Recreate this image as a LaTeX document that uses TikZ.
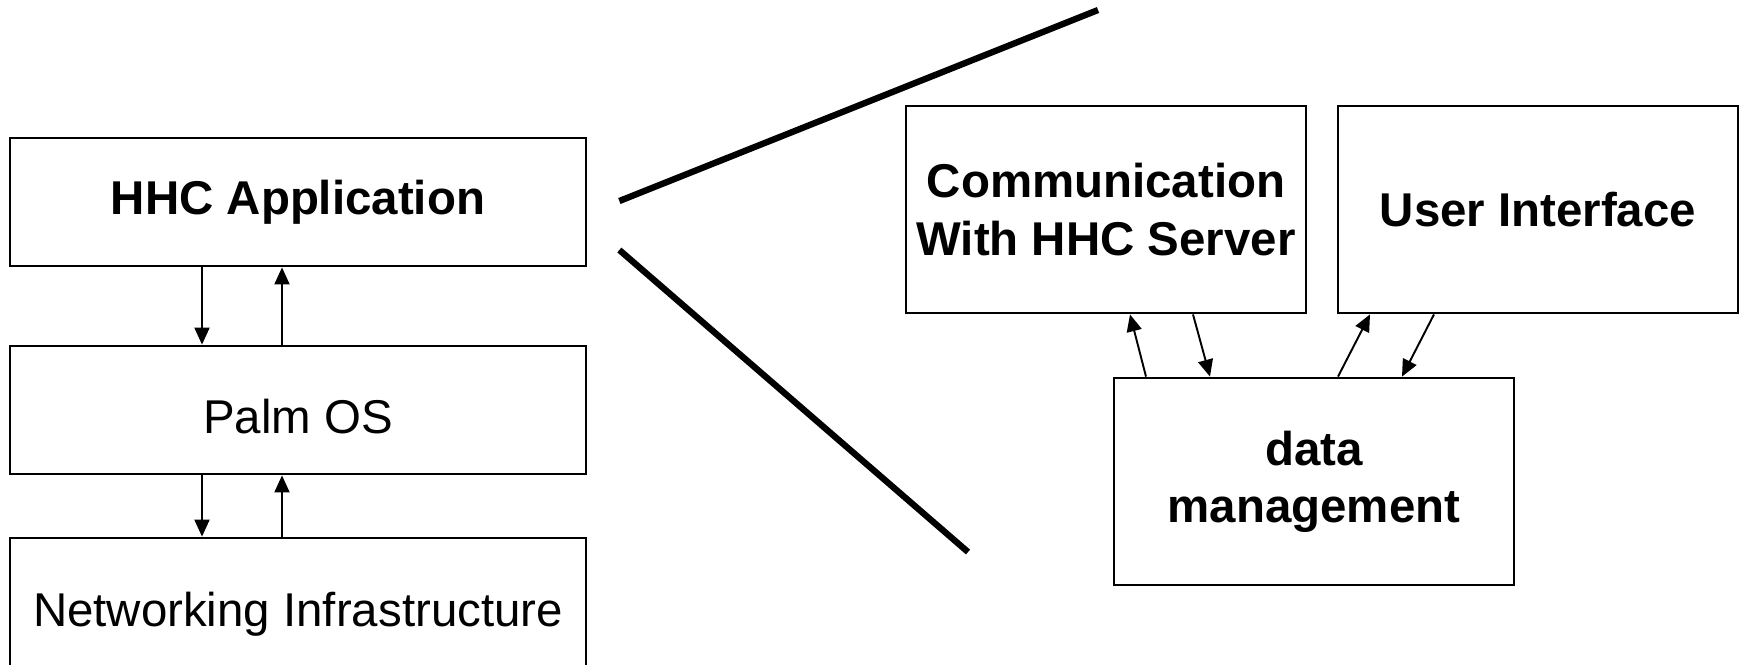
\documentclass[tikz,border=0pt]{standalone}
\usepackage{fontspec}
\setmainfont{Liberation Sans}
\usepackage{tikz}
\usetikzlibrary{calc}
\usetikzlibrary{arrows.meta}

\begin{document}
\begin{tikzpicture}[x=0.02cm,y=-0.02cm,
  every node/.style={font=\fontsize{27}{32.5}\selectfont},
  layer/.style={draw,line width=1.6pt,inner sep=0pt,minimum width=11.52cm,minimum height=2.56cm},
  part/.style={draw,line width=1.6pt,inner sep=0pt,minimum width=8cm,minimum height=4.14cm,align=center,font=\fontsize{27}{32.5}\selectfont\bfseries},
  flow/.style={line width=1.1pt,-{Triangle[length=0.34cm,width=0.3cm]}},
  zoomline/.style={line width=3.6pt}]

\useasboundingbox (0,0) rectangle (1742,664);

% left: the layers
\node [layer,font=\fontsize{27}{32.5}\selectfont\bfseries] (app) at (298,202) {HHC Application};
\node [layer,text height=27.5pt] (palm) at (298,410) {Palm OS};
\node [layer,minimum height=3.04cm] (net) at (298,614) {Networking Infrastructure};

\draw [flow] (app.south -| 202,0) -- (palm.north -| 202,0);
\draw [flow] (palm.north -| 282,0) -- (app.south -| 282,0);
\draw [flow] (palm.south -| 202,0) -- (net.north -| 202,0);
\draw [flow] (net.north -| 282,0) -- (palm.south -| 282,0);

% right: inside the application
\node [part] (comm) at (1106,209.5) {Communication\\With HHC Server};
\node [part] (ui) at (1538,209.5) {User Interface};
\node [part] (data) at (1314,481.5) {data\\management};

\draw [flow] (data.north -| 1146,0) -- (comm.south -| 1130,0);
\draw [flow] (comm.south -| 1193,0) -- (data.north -| 1210,0);
\draw [flow] (data.north -| 1338,0) -- (ui.south -| 1370,0);
\draw [flow] (ui.south -| 1434,0) -- (data.north -| 1402,0);

% the two zoom lines
\coordinate (topend) at (1098,10);
\coordinate (lowend) at (968,552);
\draw [zoomline] ($(app.east)+(32,-1)$) -- (topend);
\draw [zoomline] ($(app.east)+(32,48)$) -- (lowend);

\end{tikzpicture}
\end{document}
